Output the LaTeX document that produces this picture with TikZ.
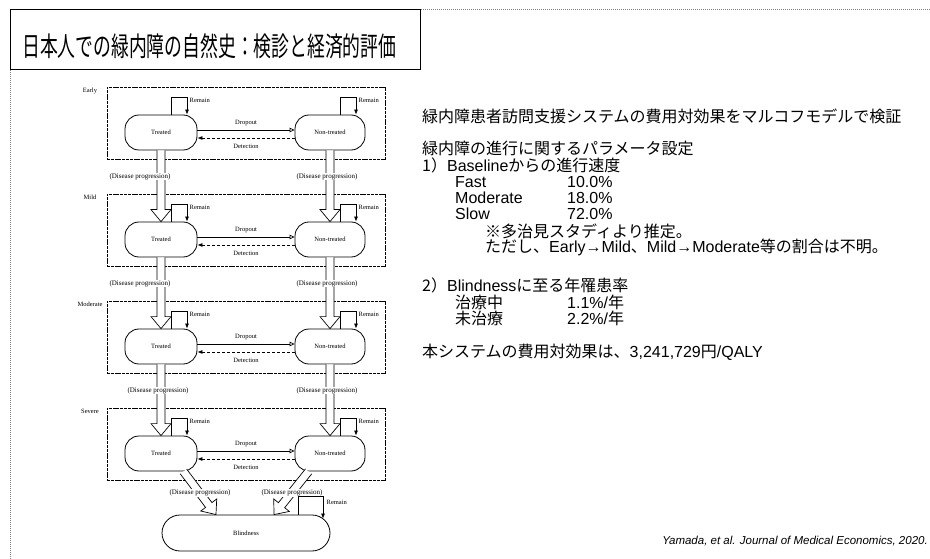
\documentclass[tikz,border=0pt]{standalone}
\usepackage{graphicx}
\usepackage{fontspec}
\setmainfont{Liberation Sans}
\newfontfamily\jp{Noto Sans CJK JP}
\newfontfamily\dg{Liberation Serif}
\usetikzlibrary{arrows.meta,calc}

\tikzset{
 stagebox/.style={draw, line width=0.7pt, dash pattern=on 3pt off 0.8pt, minimum width=278pt, minimum height=72pt, inner sep=0},
 state/.style={draw, line width=0.8pt, rounded corners=14pt, minimum width=72pt, minimum height=35pt, inner sep=0, font=\dg\fontsize{6.5}{7}\selectfont, fill=white},
 dlabel/.style={font=\dg\fontsize{6.5}{7}\selectfont, inner sep=0.5pt},
 proglabel/.style={font=\dg\fontsize{7}{8}\selectfont, fill=white, inner sep=0.6pt},
 stagelabel/.style={font=\dg\fontsize{6.5}{7}\selectfont, inner sep=0},
 hollow/.style={draw, line width=0.7pt, fill=white},
 flowsolid/.style={line width=0.7pt, -{Triangle[open, length=5pt, width=4.5pt]}},
 flowdot/.style={line width=0.7pt, densely dashed, -{Latex[length=5pt, width=4pt]}},
 selfloop/.style={line width=0.7pt, -{Latex[length=5pt, width=4pt]}},
 rtext/.style={anchor=west, inner sep=0, font=\fontsize{16}{17}\selectfont},
}

\newcommand{\hollowarrow}[2]{%
 \path let \p1=(#1), \p2=(#2), \n1={atan2(\y2-\y1,\x2-\x1)}, \n2={veclen(\x2-\x1,\y2-\y1)} in
   \pgfextra{\xdef\hang{\n1}\xdef\hlen{\n2}\xdef\hx{\x1}\xdef\hy{\y1}};
 \draw[hollow, shift={(\hx,\hy)}, rotate=\hang]
   (0pt,-4pt) -- (\hlen-12pt,-4pt) -- (\hlen-12pt,-10pt) -- (\hlen,0pt)
   -- (\hlen-12pt,10pt) -- (\hlen-12pt,4pt) -- (0pt,4pt);
}

\begin{document}
\begin{tikzpicture}[x=1pt,y=-1pt]
\useasboundingbox (0,0) rectangle (930,559);

% slide frame and title
\draw[gray, densely dotted, line width=1pt] (10,559) -- (10,10) -- (930,10);
\draw[line width=1pt] (10,10) rectangle (420,70);
\node[anchor=west, inner sep=0] (title) at (22,46) {\scalebox{0.66}[1]{\jp\fontsize{27}{29}\selectfont 日本人での緑内障の自然史：検診と経済的評価}};

% stages
\foreach \i/\T/\name in {1/87/Early,2/194/Mild,3/301/Moderate,4/408/Severe}{
  \node[stagebox] (s\i) at (246,\T+36) {};
  \node[stagelabel, anchor=north] (sl\i) at (90,\T+1) {\name};
  \node[state] (t\i) at (161,\T+45.5) {Treated};
  \node[state, minimum width=70pt] (n\i) at (330,\T+45.5) {Non-treated};
  \draw[flowsolid] ([yshift=2.5pt]t\i.east) -- ([yshift=2.5pt]n\i.west);
  \draw[flowdot] ([yshift=-5.5pt]n\i.west) -- ([yshift=-5.5pt]t\i.east);
  \node[dlabel] (dl\i) at (246,\T+36) {Dropout};
  \node[dlabel] (de\i) at (246,\T+59) {Detection};
  \draw[selfloop] ($(t\i.north)+(10,0)$) -- ++(0,-17) -| ($(t\i.north)+(26,0)$);
  \draw[selfloop] ($(n\i.north)+(10,0)$) -- ++(0,-17) -| ($(n\i.north)+(26,0)$);
  \node[dlabel, anchor=west] (rl\i) at ($(t\i.north)+(28,-14)$) {Remain};
  \node[dlabel, anchor=west] (rn\i) at ($(n\i.north)+(28,-14)$) {Remain};
}

% progression arrows
\foreach \i/\j/\T/\lx in {1/2/87/140,2/3/194/140,3/4/301/158}{
  \hollowarrow{t\i.south}{t\j.north}
  \hollowarrow{n\i.south}{n\j.north}
  \node[proglabel] (pl\i) at (\lx,\T+89.5) {(Disease progression)};
  \node[proglabel] (pr\i) at (327,\T+89.5) {(Disease progression)};
}

% blindness
\node[state, minimum width=168pt, minimum height=36pt, rounded corners=18pt] (bl) at (246,533) {Blindness};
\hollowarrow{[xshift=-14pt]t4.south east}{[xshift=-30pt]bl.north}
\hollowarrow{[xshift=14pt]n4.south west}{[xshift=28pt]bl.north}
\node[proglabel] (pl4) at (200,493) {(Disease progression)};
\node[proglabel] (pr4) at (292,493) {(Disease progression)};
\draw[selfloop] ($(bl.north)+(52,0)$) -- ++(0,-18) -| ($(bl.north)+(77,4)$);
\node[dlabel, anchor=west] (rb) at ($(bl.north)+(80,-12)$) {Remain};

% right text
\node[rtext] (r1) at (422,116) {\jp 緑内障患者訪問支援システムの費用対効果をマルコフモデルで検証};
\node[rtext] (r2) at (422,148) {\jp 緑内障の進行に関するパラメータ設定};
\node[rtext] (r3) at (422,165) {{\jp 1）}Baseline{\jp からの進行速度}};
\node[rtext] (f1) at (455,182) {Fast};
\node[rtext] (f2) at (567,182) {10.0\%};
\node[rtext] (m1) at (455,198) {Moderate};
\node[rtext] (m2) at (567,198) {18.0\%};
\node[rtext] (w1) at (455,214) {Slow};
\node[rtext] (w2) at (567,214) {72.0\%};
\node[rtext] (r4) at (485,231) {\jp ※多治見スタディより推定。};
\node[rtext] (r5) at (485,247) {{\jp ただし、}Early→Mild{\jp 、}Mild→Moderate{\jp 等の割合は不明。}};
\node[rtext] (r6) at (422,285) {{\jp 2）}Blindness{\jp に至る年罹患率}};
\node[rtext] (g1) at (455,302) {\jp 治療中};
\node[rtext] (g2) at (567,302) {1.1\%/{\jp 年}};
\node[rtext] (h1) at (455,318) {\jp 未治療};
\node[rtext] (h2) at (567,318) {2.2\%/{\jp 年}};
\node[rtext] (r7) at (422,352) {{\jp 本システムの費用対効果は、}3,241,729{\jp 円}/QALY};
\node[anchor=east, inner sep=0, font=\itshape\fontsize{11.5}{12}\selectfont] (cite) at (928,541) {Yamada, et al. Journal of Medical Economics, 2020.};
\end{tikzpicture}
\end{document}
